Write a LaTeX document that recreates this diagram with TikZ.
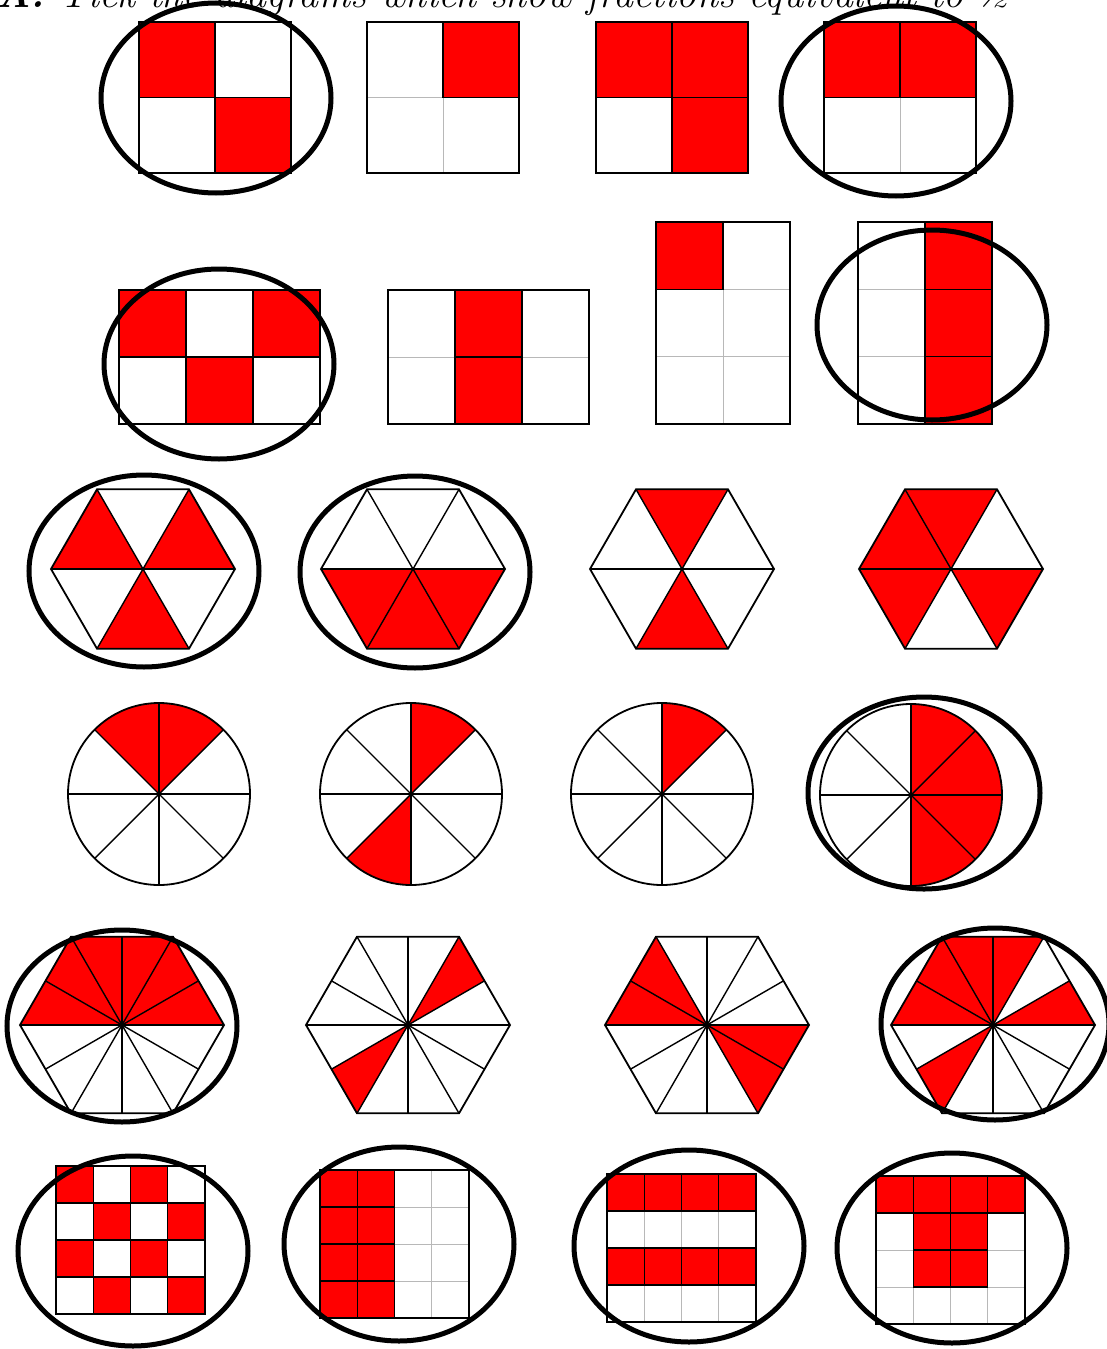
\documentclass[tikz,border=0pt]{standalone}
\usepackage{fontspec}
\tikzset{
  outline/.style={draw=black, line width=1.8pt, line join=miter},
  redcell/.style={fill=red, draw=black, line width=1.4pt},
  gridline/.style={draw=black!28, line width=1pt},
  spoke/.style={draw=black, line width=1.4pt},
  tickmark/.style={draw=black, line width=5pt},
}
\newcommand\GridBox[7]{%
  \pgfmathsetmacro\gcw{(#3-#1)/#5}%
  \pgfmathsetmacro\gch{(#4-#2)/#6}%
  \fill[white] (#1,#2) rectangle (#3,#4);
  \foreach \i in {1,...,#5} \draw[gridline] ({#1+\i*\gcw},#2) -- ({#1+\i*\gcw},#4);
  \foreach \j in {1,...,#6} \draw[gridline] (#1,{#2+\j*\gch}) -- (#3,{#2+\j*\gch});
  \foreach \c/\r in {#7} \draw[redcell] ({#1+(\c-1)*\gcw},{#2+(\r-1)*\gch}) rectangle ++(\gcw,\gch);
  \draw[outline] (#1,#2) rectangle (#3,#4);
}
\newcommand\HexSix[4]{%
  \foreach \k in {#4} \fill[red] (#1,#2) -- ({#1+#3*cos(60*\k)},{#2-#3*sin(60*\k)}) -- ({#1+#3*cos(60*\k+60)},{#2-#3*sin(60*\k+60)}) -- cycle;
  \foreach \k in {0,...,5} \draw[spoke] (#1,#2) -- ({#1+#3*cos(60*\k)},{#2-#3*sin(60*\k)});
  \draw[outline] ({#1+#3},#2) \foreach \k in {1,...,5}{ -- ({#1+#3*cos(60*\k)},{#2-#3*sin(60*\k)})} -- cycle;
}
\newcommand\HexTwelve[4]{%
  \foreach \j in {#4} \fill[red] (#1,#2)
     -- ({#1+#3*(1-0.1339746*mod(\j,2))*cos(30*\j)},{#2-#3*(1-0.1339746*mod(\j,2))*sin(30*\j)})
     -- ({#1+#3*(1-0.1339746*mod(\j+1,2))*cos(30*\j+30)},{#2-#3*(1-0.1339746*mod(\j+1,2))*sin(30*\j+30)}) -- cycle;
  \foreach \j in {0,...,11} \draw[spoke] (#1,#2) -- ({#1+#3*(1-0.1339746*mod(\j,2))*cos(30*\j)},{#2-#3*(1-0.1339746*mod(\j,2))*sin(30*\j)});
  \draw[outline] ({#1+#3},#2) \foreach \k in {1,...,5}{ -- ({#1+#3*cos(60*\k)},{#2-#3*sin(60*\k)})} -- cycle;
}
\newcommand\CircEight[4]{%
  \foreach \k in {#4} \fill[red] (#1,#2) -- ++({#3*cos(45*\k)},{-#3*sin(45*\k)}) arc[start angle={-45*\k}, end angle={-45*\k-45}, radius=#3] -- cycle;
  \foreach \k in {0,...,7} \draw[spoke] (#1,#2) -- ({#1+#3*cos(45*\k)},{#2-#3*sin(45*\k)});
  \draw[outline] (#1,#2) circle[radius=#3];
}
\begin{document}
\begin{tikzpicture}[x=1pt,y=-1pt]
\useasboundingbox (0,0) rectangle (1107,1349);
\clip (0,0) rectangle (1107,1349);
\fill[white] (0,0) rectangle (1107,1349);
\node[anchor=base west, inner sep=0, font=\fontsize{40}{42}\selectfont\itshape] (title) at (-4,7) {\textbf{A.} Tick the diagrams which show fractions equivalent to ½};

% row 1
\GridBox{139}{22}{291}{173}{2}{2}{1/1,2/2}
\GridBox{367}{22}{519}{173}{2}{2}{2/1}
\GridBox{596}{22}{748}{173}{2}{2}{1/1,2/1,2/2}
\GridBox{824}{22}{976}{173}{2}{2}{1/1,2/1}
\draw[tickmark] (216,98) ellipse[x radius=115, y radius=95];
\draw[tickmark] (896,101) ellipse[x radius=115, y radius=95];

% row 2
\GridBox{119}{290}{320}{424}{3}{2}{1/1,3/1,2/2}
\GridBox{388}{290}{589}{424}{3}{2}{2/1,2/2}
\GridBox{656}{222}{790}{424}{2}{3}{1/1}
\GridBox{858}{222}{992}{424}{2}{3}{2/1,2/2,2/3}
\draw[tickmark] (219,364) ellipse[x radius=115, y radius=95];
\draw[tickmark] (932,325) ellipse[x radius=115, y radius=95];

% row 3
\HexSix{143}{569}{92}{0,2,4}
\HexSix{413}{569}{92}{3,4,5}
\HexSix{682}{569}{92}{1,4}
\HexSix{951}{569}{92}{1,2,3,5}
\draw[tickmark] (144,571) ellipse[x radius=115, y radius=96];
\draw[tickmark] (415,572) ellipse[x radius=115, y radius=96];

% row 4
\CircEight{159}{794}{91}{1,2}
\CircEight{411}{794}{91}{1,5}
\CircEight{662}{794}{91}{1}
\CircEight{911}{795}{91}{6,7,0,1}
\draw[tickmark] (924,793) ellipse[x radius=116, y radius=96];

% row 5
\HexTwelve{122}{1025}{102}{0,1,2,3,4,5}
\HexTwelve{408}{1025}{102}{1,7}
\HexTwelve{707}{1025}{102}{4,5,10,11}
\HexTwelve{993}{1025}{102}{0,2,3,4,5,7}
\draw[tickmark] (122,1026) ellipse[x radius=115, y radius=96];
\draw[tickmark] (995,1024) ellipse[x radius=114, y radius=96];

% row 6
\GridBox{56}{1166}{205}{1314}{4}{4}{1/1,3/1,2/2,4/2,1/3,3/3,2/4,4/4}
\GridBox{320}{1170}{469}{1318}{4}{4}{1/1,2/1,1/2,2/2,1/3,2/3,1/4,2/4}
\GridBox{607}{1174}{756}{1322}{4}{4}{1/1,2/1,3/1,4/1,1/3,2/3,3/3,4/3}
\GridBox{876}{1176}{1025}{1324}{4}{4}{1/1,2/1,3/1,4/1,2/2,3/2,2/3,3/3}
\draw[tickmark] (133,1251) ellipse[x radius=115, y radius=95];
\draw[tickmark] (399,1244) ellipse[x radius=115, y radius=97];
\draw[tickmark] (689,1246) ellipse[x radius=115, y radius=96];
\draw[tickmark] (952,1248) ellipse[x radius=115, y radius=95];
\end{tikzpicture}
\end{document}
